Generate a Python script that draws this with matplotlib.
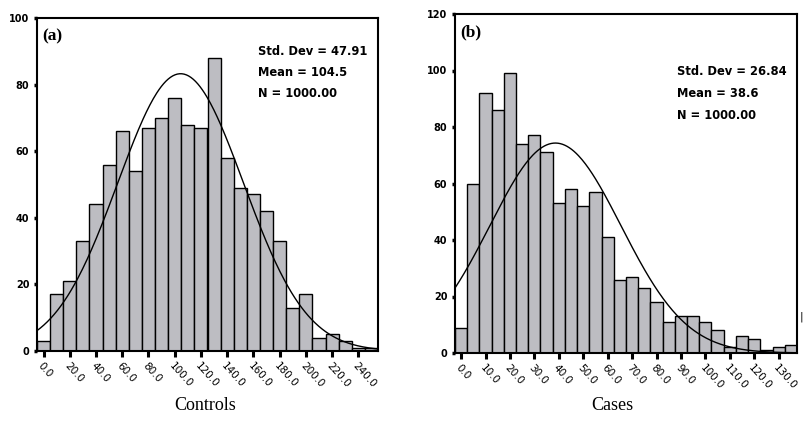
import numpy as np
import matplotlib
matplotlib.use("Agg")
import matplotlib.pyplot as plt

# (a) Controls: bin centres every 10, counts
ctrl_centers = [0, 10, 20, 30, 40, 50, 60, 70, 80, 90, 100, 110, 120,
                130, 140, 150, 160, 170, 180, 190, 200, 210, 220, 230, 240, 250]
ctrl_counts = [3, 17, 21, 33, 44, 56, 66, 54, 67, 70, 76, 68, 67,
               88, 58, 49, 47, 42, 33, 13, 17, 4, 5, 3, 1, 1]
ctrl_ticks = [0, 20, 40, 60, 80, 100, 120, 140, 160, 180, 200, 220, 240]
ctrl_yticks = [0, 20, 40, 60, 80, 100]
ctrl_mean, ctrl_sd, ctrl_n, ctrl_bin = 104.5, 47.91, 1000, 10

# (b) Cases: bin centres every 5
case_centers = [0, 5, 10, 15, 20, 25, 30, 35, 40, 45, 50, 55, 60, 65,
                70, 75, 80, 85, 90, 95, 100, 105, 110, 115, 120, 125, 130, 135]
case_counts = [9, 60, 92, 86, 99, 74, 77, 71, 53, 58, 52, 57, 41, 26,
               27, 23, 18, 11, 13, 13, 11, 8, 2, 6, 5, 1, 2, 3]
case_ticks = [0, 10, 20, 30, 40, 50, 60, 70, 80, 90, 100, 110, 120, 130]
case_yticks = [0, 20, 40, 60, 80, 100, 120]
case_mean, case_sd, case_n, case_bin = 38.6, 26.84, 1000, 5

BAR = "#bdbdc2"


def normal_fit(ax, mean, sd, n, width, lo, hi):
    # fitted normal curve scaled to counts, as drawn by SPSS
    x = np.linspace(lo, hi, 300)
    y = n * width / (sd * np.sqrt(2 * np.pi)) * np.exp(-(x - mean) ** 2 / (2 * sd ** 2))
    ax.plot(x, y, color="black", lw=1.0)


def panel(ax, centers, counts, width, ticks, yticks, ymax, mean, sd, n, tag, stats_y):
    ax.bar(centers, counts, width=width, color=BAR, edgecolor="black", linewidth=1.0)
    lo = centers[0] - width / 2
    hi = centers[-1] + width / 2
    normal_fit(ax, mean, sd, n, width, lo, hi)
    ax.set_xlim(lo, hi)
    ax.set_ylim(0, ymax)
    ax.set_xticks(ticks)
    ax.set_xticklabels(["%.1f" % t for t in ticks], rotation=-48, ha="left",
                       va="top", rotation_mode="anchor", fontsize=7.5)
    ax.set_yticks(yticks)
    ax.set_yticklabels([str(t) for t in yticks], fontsize=7, fontweight="bold")
    ax.tick_params(axis="x", direction="out", length=4, width=2.2, pad=3)
    ax.tick_params(axis="y", direction="out", length=2.5, width=2.5, pad=3)
    for s in ax.spines.values():
        s.set_linewidth(1.5)
    ax.text(0.015, 0.968, tag, transform=ax.transAxes, ha="left", va="top",
            fontsize=12.5, fontweight="bold", family="Liberation Serif")
    lines = ["Std. Dev = %.2f" % sd, "Mean = %.1f" % mean, "N = %.2f" % n]
    for i, t in enumerate(lines):
        ax.text(0.648, stats_y - i * 0.064, t, transform=ax.transAxes,
                ha="left", va="center", fontsize=8.3, fontweight="semibold")


fig = plt.figure(figsize=(8.08, 4.25), dpi=100)
ax1 = fig.add_axes([37 / 808, 1 - 351 / 425, 341 / 808, 333 / 425])
ax2 = fig.add_axes([455 / 808, 1 - 353 / 425, 342 / 808, 339 / 425])

panel(ax1, ctrl_centers, ctrl_counts, ctrl_bin, ctrl_ticks, ctrl_yticks, 100,
      ctrl_mean, ctrl_sd, ctrl_n, "(a)", 0.90)
panel(ax2, case_centers, case_counts, case_bin, case_ticks, case_yticks, 120,
      case_mean, case_sd, case_n, "(b)", 0.83)

fig.text(205 / 808, 1 - 405 / 425, "Controls", ha="center", va="center",
         fontsize=13, family="Liberation Serif")
fig.text(612 / 808, 1 - 405 / 425, "Cases", ha="center", va="center",
         fontsize=13, family="Liberation Serif")
fig.text(801 / 808, 1 - 317 / 425, "|", ha="center", va="center", fontsize=8)

fig.savefig("out.png", dpi=100)
